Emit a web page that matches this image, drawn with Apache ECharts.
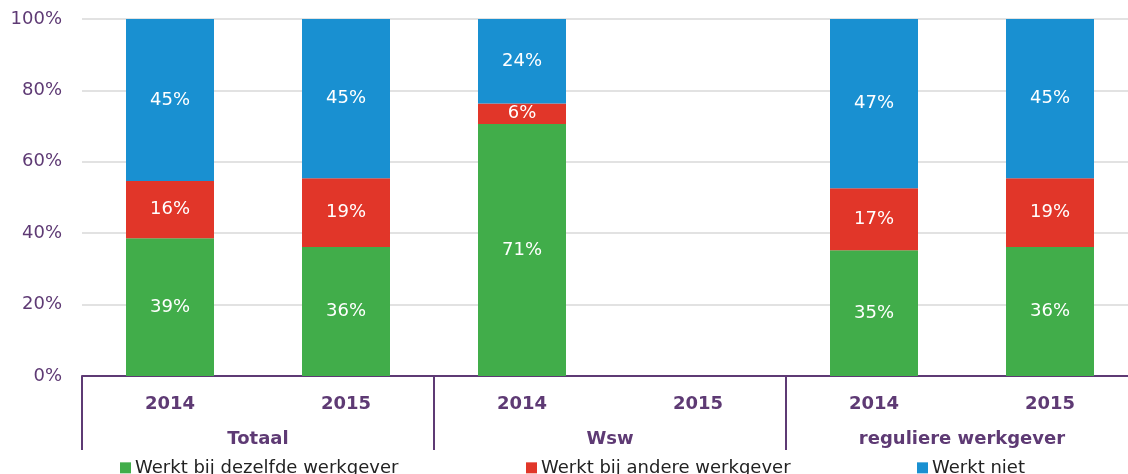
<!DOCTYPE html>
<html>
<head>
    <title>Werkt bij dezelfde werkgever</title>
    <script src="https://cdn.jsdelivr.net/npm/echarts@6.0.0/dist/echarts.min.js"></script>
    <style>
        html, body { margin: 0; padding: 0; background: #fff; overflow: hidden; }
        /* the original picture is cut off on the right, so the chart is a bit wider than the window */
        #chart { width: 1138px; height: 474px; }
    </style>
</head>
<body>
    <div id="chart"></div>

    <script>
        // categories
        const years = ['2014', '2015', '2014', '2015', '2014', '2015'];
        const groups = ['Totaal', 'Wsw', 'reguliere werkgever'];
        const yTicks = [0, 20, 40, 60, 80, 100];

        // series values (percent)
        const zelfde = [38.6, 36.1, 70.6, null, 35.2, 36.1];
        const andere = [16.0, 19.3, 5.7, null, 17.4, 19.3];
        const niet = [45.4, 44.6, 23.7, null, 47.4, 44.6];

        const seriesNames = ['Werkt bij dezelfde werkgever', 'Werkt bij andere werkgever', 'Werkt niet'];
        const colors = ['#41ad4a', '#e13629', '#1990d1'];

        const purple = '#5e3a74';
        const font = 'DejaVu Sans';

        function barSeries(name, data, color) {
            return {
                name: name,
                type: 'bar',
                stack: 'total',
                barWidth: '50%',
                data: data,
                itemStyle: { color: color },
                label: {
                    show: true,
                    position: 'inside',
                    color: '#fff',
                    fontFamily: font,
                    fontSize: 18,
                    formatter: p => Math.round(p.value) + '%'
                }
            };
        }

        const legendLeft = [120, 526, 917];

        const chart = echarts.init(document.getElementById('chart'));
        chart.setOption({
            animation: false,
            textStyle: { fontFamily: font },
            grid: { left: 82, right: 0, top: 19, bottom: 98 },
            legend: seriesNames.map((n, i) => ({
                data: [n],
                left: legendLeft[i],
                top: 450,
                itemWidth: 11,
                itemHeight: 11,
                itemGap: 4,
                padding: 0,
                icon: 'rect',
                textStyle: { fontFamily: font, fontSize: 18, color: '#222', padding: [0, 0, 0, -1] }
            })),
            xAxis: [
                {
                    type: 'category',
                    data: years,
                    axisLine: { lineStyle: { color: purple, width: 2 } },
                    axisTick: { show: false },
                    axisLabel: {
                        margin: 9,
                        color: purple,
                        fontFamily: font,
                        fontWeight: 'bold',
                        fontSize: 18
                    }
                },
                {
                    type: 'category',
                    data: groups,
                    position: 'bottom',
                    axisLine: { show: false },
                    axisTick: {
                        show: true,
                        length: 74,
                        interval: 0,
                        lineStyle: { color: purple, width: 2 }
                    },
                    axisLabel: {
                        margin: 44,
                        color: purple,
                        fontFamily: font,
                        fontWeight: 'bold',
                        fontSize: 18
                    }
                }
            ],
            yAxis: {
                type: 'value',
                min: yTicks[0],
                max: yTicks[yTicks.length - 1],
                interval: 20,
                axisLine: { show: false },
                axisTick: { show: false },
                splitLine: { lineStyle: { color: '#e2e2e2', width: 2 } },
                axisLabel: {
                    margin: 20,
                    color: purple,
                    fontFamily: font,
                    fontSize: 18,
                    formatter: '{value}%'
                }
            },
            series: [
                barSeries(seriesNames[0], zelfde, colors[0]),
                barSeries(seriesNames[1], andere, colors[1]),
                barSeries(seriesNames[2], niet, colors[2])
            ]
        });
    </script>
</body>
</html>
